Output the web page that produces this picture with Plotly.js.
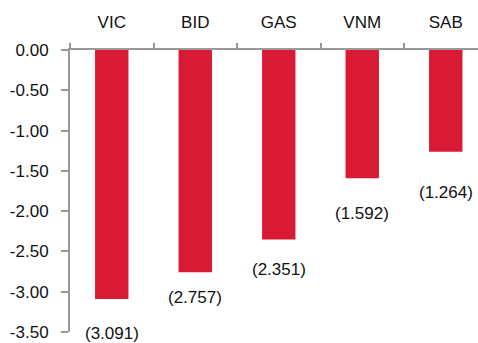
<!DOCTYPE html>
<html>
<head>
<meta charset="utf-8">
<script src="https://cdn.plot.ly/plotly-3.0.1.min.js"></script>
<style>html,body{margin:0;padding:0;background:#fff;}#chart{width:478px;height:343px;}</style>
</head>
<body>
<div id="chart"></div>
<script>
var categories = ["VIC", "BID", "GAS", "VNM", "SAB"];
var values = [-3.091, -2.757, -2.351, -1.592, -1.264];
var labels = ["(3.091)", "(2.757)", "(2.351)", "(1.592)", "(1.264)"];
var yTickVals = [0, -0.5, -1, -1.5, -2, -2.5, -3, -3.5];
var yTickText = ["0.00", "-0.50", "-1.00", "-1.50", "-2.00", "-2.50", "-3.00", "-3.50"];

// label placement (pixel offsets below bar end, as in the original)
var labelShift = [-34, -25, -30, -35, -41];

var FONT = "Liberation Sans, Arial, sans-serif";
var FS = 17;

var trace = {
  type: "bar",
  x: categories,
  y: values,
  width: 0.4,
  marker: {color: "#D91A34"},
  hoverinfo: "none"
};

var annotations = categories.map(function(c, i) {
  return {
    x: c, y: values[i], xref: "x", yref: "y",
    text: labels[i], showarrow: false,
    yanchor: "middle", yshift: labelShift[i],
    font: {family: FONT, size: FS, color: "#111"}
  };
});

var layout = {
  width: 478, height: 343,
  margin: {l: 70, r: 0, t: 50, b: 11},
  paper_bgcolor: "#fff", plot_bgcolor: "#fff",
  showlegend: false,
  font: {family: FONT, size: FS, color: "#111"},
  xaxis: {
    type: "category",
    side: "top",
    range: [-0.5, 4.386],
    showline: true, linecolor: "#999", linewidth: 2,
    ticks: "outside", tickson: "boundaries", ticklen: 5, tickcolor: "#999", tickwidth: 2,
    ticklabelstandoff: 13,
    showgrid: false, zeroline: false,
    tickfont: {family: FONT, size: FS, color: "#111"}
  },
  yaxis: {
    range: [-3.5, 0],
    tickvals: yTickVals, ticktext: yTickText,
    showline: true, linecolor: "#999", linewidth: 2,
    ticks: "outside", ticklen: 7, tickcolor: "#999", tickwidth: 2,
    ticklabelstandoff: 9,
    showgrid: false, zeroline: false,
    tickfont: {family: FONT, size: FS, color: "#111"}
  },
  annotations: annotations
};

Plotly.newPlot("chart", [trace], layout, {staticPlot: true, displayModeBar: false});
</script>
</body>
</html>
